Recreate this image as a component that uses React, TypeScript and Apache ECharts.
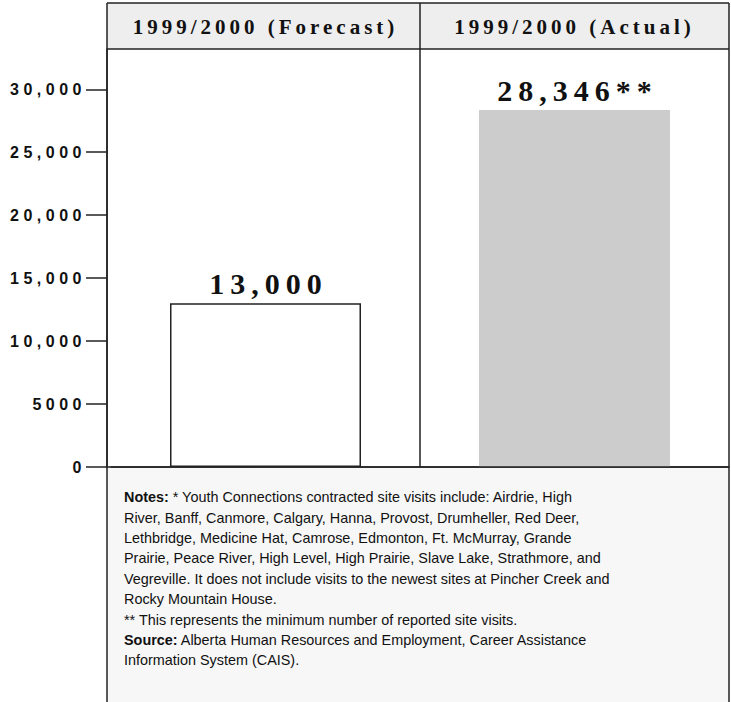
import React, { useEffect, useRef } from 'react';
import * as echarts from 'echarts';

const categories = ['1999/2000 (Forecast)', '1999/2000 (Actual)'];
const values = [13000, 28346];
const valueLabels = ['13,000', '28,346**'];
const tickValues = [0, 5000, 10000, 15000, 20000, 25000, 30000];
const tickLabels = ['0', '5000', '10,000', '15,000', '20,000', '25,000', '30,000'];
const noteLines = [
  '{b|Notes:} * Youth Connections contracted site visits include: Airdrie, High',
  'River, Banff, Canmore, Calgary, Hanna, Provost, Drumheller, Red Deer,',
  'Lethbridge, Medicine Hat, Camrose, Edmonton, Ft. McMurray, Grande',
  'Prairie, Peace River, High Level, High Prairie, Slave Lake, Strathmore, and',
  'Vegreville. It does not include visits to the newest sites at Pincher Creek and',
  'Rocky Mountain House.',
  '** This represents the minimum number of reported site visits.',
  '{b|Source:} Alberta Human Resources and Employment, Career Assistance',
  'Information System (CAIS).',
];

const css = `
.chartbox text[style*="16px"] { letter-spacing: 4.5px; }
.chartbox text[style*="21px"] { letter-spacing: 4px; }
.chartbox text[style*="30px"] { letter-spacing: 6px; }
`;

export default function App() {
  const ref = useRef<HTMLDivElement>(null);
  useEffect(() => {
    if (!ref.current) return;
    const chart = echarts.init(ref.current, undefined, { renderer: 'svg' });
    const L = 107, GL = 111, R = 729, T = 3, HB = 49, GB = 467, B = 706;
    const mid = (GL + R) / 2;
    const line = '#222';
    const lw = 1.5;
    chart.setOption({
      animation: false,
      backgroundColor: '#ffffff',
      grid: { left: GL, right: 731 - R, top: HB, bottom: 702 - GB, containLabel: false },
      xAxis: {
        type: 'category',
        data: categories,
        position: 'top',
        axisLine: { show: true, lineStyle: { color: line, width: lw } },
        axisTick: { show: false },
        axisLabel: {
          fontFamily: 'Liberation Serif',
          fontWeight: 'bold',
          fontSize: 21,
          color: '#111',
          margin: 22,
          verticalAlign: 'middle',
        },
        splitLine: { show: false },
      },
      yAxis: {
        type: 'value',
        min: 0,
        max: 33200,
        interval: 5000,
        offset: GL - L,
        axisLine: { show: true, lineStyle: { color: line, width: lw } },
        axisTick: { show: true, inside: false, length: 21, customValues: tickValues, lineStyle: { color: line, width: lw } },
        axisLabel: {
          customValues: tickValues,
          formatter: (v: number) => {
            const i = tickValues.indexOf(v);
            return i >= 0 ? tickLabels[i] : '';
          },
          margin: 21,
          fontFamily: 'Liberation Sans',
          fontWeight: 'bold',
          fontSize: 16,
          color: '#111',
        },
        splitLine: { show: false },
      },
      series: [
        {
          type: 'bar',
          barWidth: 191,
          data: values.map((v, i) => ({
            value: v,
            itemStyle: i === 0
              ? { color: '#ffffff', borderColor: line, borderWidth: lw }
              : { color: '#cccccc', borderWidth: 0 },
          })),
          label: {
            show: true,
            position: 'top',
            distance: 5,
            offset: [3, 0],
            formatter: (p: any) => valueLabels[p.dataIndex],
            fontFamily: 'Liberation Serif',
            fontWeight: 'bold',
            fontSize: 30,
            color: '#111',
          },
        },
      ],
      graphic: [
        { type: 'rect', z: -10, shape: { x: L, y: T, width: R - L, height: HB - T }, style: { fill: '#eeeeee' } },
        { type: 'rect', z: -10, shape: { x: L, y: GB, width: R - L, height: B - GB }, style: { fill: '#f7f7f7' } },
        { type: 'line', z: 10, shape: { x1: L, y1: T, x2: R, y2: T }, style: { stroke: line, lineWidth: lw } },
        { type: 'line', z: 10, shape: { x1: L, y1: HB, x2: R, y2: HB }, style: { stroke: line, lineWidth: lw } },
        { type: 'line', z: 10, shape: { x1: L, y1: T, x2: L, y2: B }, style: { stroke: line, lineWidth: lw } },
        { type: 'line', z: 10, shape: { x1: R, y1: T, x2: R, y2: B }, style: { stroke: line, lineWidth: lw } },
        { type: 'line', z: 10, shape: { x1: mid, y1: T, x2: mid, y2: GB }, style: { stroke: line, lineWidth: lw } },
        { type: 'line', z: 10, shape: { x1: L, y1: GB, x2: R, y2: GB }, style: { stroke: line, lineWidth: lw } },
        {
          type: 'text',
          z: 10,
          x: 124,
          y: 487,
          style: {
            text: noteLines.join('\n'),
            fontFamily: 'Liberation Sans',
            fontSize: 14.4,
            lineHeight: 20.4,
            fill: '#111',
            rich: {
              b: { fontFamily: 'Liberation Sans', fontWeight: 'bold', fontSize: 14.4, lineHeight: 20.4, fill: '#111' },
            },
          },
        },
      ],
    });
    return () => chart.dispose();
  }, []);
  return (
    <div className="chartbox" style={{ position: 'absolute', left: 0, top: 0, width: 731, height: 702, background: '#fff' }}>
      <style>{css}</style>
      <div ref={ref} style={{ width: 731, height: 702 }} />
    </div>
  );
}
